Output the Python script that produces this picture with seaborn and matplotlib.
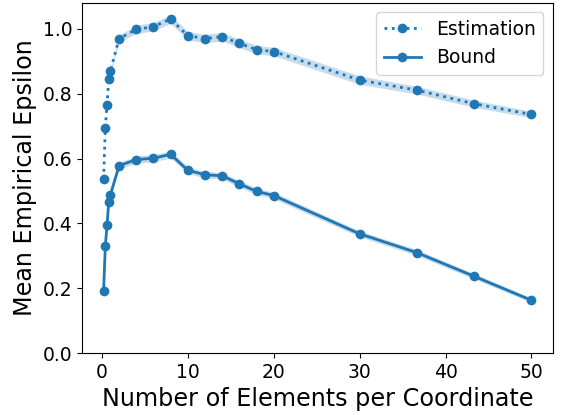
import numpy as np
import pandas as pd
import matplotlib
matplotlib.use("Agg")
import matplotlib.pyplot as plt
import seaborn as sns

# valores
n_elementos = [0.2, 0.4, 0.6, 0.8, 1, 2, 4, 6, 8, 10, 12, 14, 16, 18, 20, 30, 36.67, 43.33, 50]
estimacao = [0.537, 0.694, 0.766, 0.845, 0.871, 0.970, 0.998, 1.007, 1.030, 0.979,
             0.970, 0.976, 0.955, 0.936, 0.930, 0.842, 0.811, 0.769, 0.736]
estimacao_erro = [0.004, 0.005, 0.006, 0.006, 0.007, 0.011, 0.013, 0.013, 0.013, 0.013,
                  0.013, 0.013, 0.013, 0.013, 0.013, 0.013, 0.012, 0.011, 0.010]
limite = [0.192, 0.330, 0.395, 0.466, 0.489, 0.578, 0.597, 0.601, 0.613, 0.564,
          0.550, 0.547, 0.522, 0.499, 0.486, 0.368, 0.310, 0.237, 0.163]
limite_erro = [0.004, 0.005, 0.006, 0.006, 0.007, 0.010, 0.011, 0.011, 0.011, 0.010,
               0.010, 0.010, 0.010, 0.010, 0.010, 0.009, 0.009, 0.008, 0.007]

df = pd.DataFrame({"x": n_elementos, "est": estimacao, "bound": limite})

fig, ax = plt.subplots(figsize=(5.63, 4.15), dpi=100)

# estimacao (pontilhada)
sns.lineplot(data=df, x="x", y="est", ax=ax, color="C0", linestyle=":", marker="o",
             markersize=7, markeredgewidth=0, linewidth=2, label="Estimation")
ax.fill_between(n_elementos, np.array(estimacao) - np.array(estimacao_erro),
                np.array(estimacao) + np.array(estimacao_erro), color="C0", alpha=0.25, linewidth=0)

# limite (continua)
sns.lineplot(data=df, x="x", y="bound", ax=ax, color="C0", linestyle="-", marker="o",
             markersize=7, markeredgewidth=0, linewidth=2, label="Bound")
ax.fill_between(n_elementos, np.array(limite) - np.array(limite_erro),
                np.array(limite) + np.array(limite_erro), color="C0", alpha=0.25, linewidth=0)

ax.set_ylim(0, 1.08)
ax.set_xlabel("Number of Elements per Coordinate", fontsize=17.2)
ax.set_ylabel("Mean Empirical Epsilon", fontsize=17.2)
ax.tick_params(labelsize=13.5)
ax.legend(loc="upper right", fontsize=13.5)

plt.subplots_adjust(left=0.146, right=0.982, top=0.993, bottom=0.149)
plt.savefig("out.png")
